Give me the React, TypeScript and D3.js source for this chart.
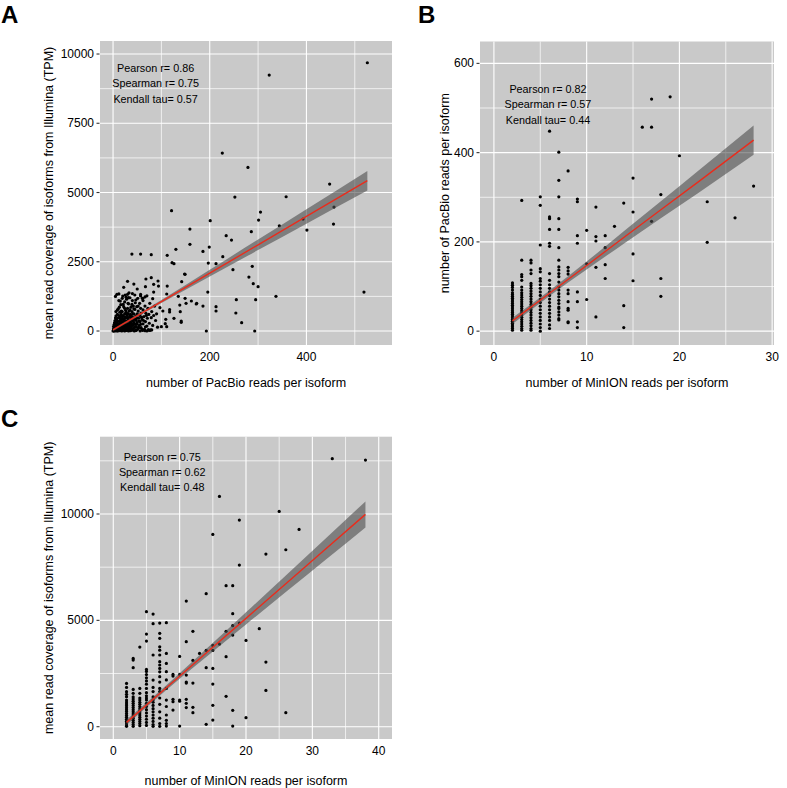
import * as d3 from 'd3'

// Panel A: PacBio reads per isoform (x) vs Illumina TPM (y)
const pacbioVsIllumina: [number, number][] = [
  [526, 9684], [323, 9239], [226, 6424], [279, 5907], [448, 5305], [358, 4848], [252, 4836],
  [457, 4475], [121, 4343], [305, 4295], [201, 3982], [301, 4006], [393, 4042], [344, 3801],
  [456, 3862], [401, 3645], [159, 3681], [286, 3585], [234, 3441], [245, 3284], [159, 3128],
  [199, 3032], [130, 2948], [186, 2875], [112, 2731], [39, 2779], [57, 2779], [79, 2755],
  [227, 2683], [122, 2466], [126, 2430], [197, 2454], [213, 2430], [288, 2334], [248, 2214],
  [149, 2045], [281, 1949], [290, 1708], [300, 1600], [142, 1780], [112, 1624], [196, 1407],
  [337, 1251], [519, 1407], [255, 1131], [295, 1131], [149, 1179], [173, 998], [186, 902],
  [213, 878], [213, 722], [138, 938], [139, 698], [254, 650], [266, 301], [141, 361],
  [141, 313], [193, 0], [293, 0], [117, 770], [117, 686], [126, 457], [103, 722], [109, 421],
  [108, 265], [97, 842], [94, 1624], [93, 1805], [84, 1684], [84, 1407], [79, 1925], [68, 1877],
  [67, 1600], [50, 1516], [43, 1696], [30, 1792], [22, 1576], [8, 1323], [148, 2058],
  [135, 1252], [151, 1000], [172, 975], [162, 1083], [111, 1336], [100, 155], [111, 155],
  [73, 40], [80, 40], [82, 1167], [57, 1265], [61, 1180], [30, 1325], [32, 1205], [12, 1100],
  [0, 0], [1, 20], [2, 60], [2, 10], [3, 120], [3, 40], [4, 200], [4, 80], [5, 15], [5, 300],
  [6, 150], [6, 50], [7, 420], [7, 90], [8, 240], [8, 30], [9, 600], [9, 180], [10, 60],
  [10, 350], [11, 800], [11, 260], [12, 130], [12, 20], [13, 480], [13, 210], [14, 90],
  [14, 680], [15, 300], [15, 40], [16, 950], [16, 520], [17, 160], [17, 380], [18, 70],
  [18, 250], [19, 700], [19, 440], [20, 110], [20, 20], [21, 560], [21, 330], [22, 880],
  [22, 190], [23, 60], [23, 410], [24, 1050], [24, 620], [25, 280], [25, 150], [26, 30],
  [26, 750], [27, 470], [27, 90], [28, 340], [28, 1150], [29, 560], [29, 200], [30, 40],
  [30, 820], [31, 390], [31, 630], [32, 140], [32, 980], [33, 260], [33, 720], [34, 70],
  [34, 500], [35, 1200], [35, 330], [36, 600], [36, 170], [37, 860], [37, 420], [38, 40],
  [38, 280], [39, 700], [40, 1100], [40, 510], [41, 220], [42, 900], [42, 360], [43, 620],
  [44, 110], [44, 450], [45, 780], [46, 250], [46, 1020], [47, 550], [48, 160], [48, 380],
  [49, 880], [50, 620], [50, 300], [51, 60], [52, 720], [53, 460], [54, 200], [55, 1000],
  [55, 560], [56, 340], [57, 820], [58, 120], [58, 650], [60, 420], [61, 1180], [62, 260],
  [62, 760], [64, 520], [65, 60], [66, 900], [67, 340], [68, 640], [70, 180], [71, 460],
  [72, 820], [73, 40], [74, 600], [75, 280], [76, 1000], [78, 40], [79, 480], [80, 700],
  [82, 200], [84, 560], [86, 900], [88, 380], [90, 620], [92, 140], [1, 5], [2, 30], [3, 0],
  [4, 25], [5, 100], [6, 10], [8, 5], [10, 0], [12, 80], [14, 15], [16, 100], [18, 0],
  [20, 230], [22, 50], [24, 0], [26, 120], [28, 20], [30, 160], [32, 0], [34, 230], [36, 10],
  [38, 120], [40, 30], [44, 0], [48, 20], [52, 100], [56, 0], [60, 60], [66, 10], [70, 0],
  [76, 20], [62, 1100], [66, 1230], [70, 1270], [40, 1350], [25, 1300], [33, 1380], [45, 1300],
  [51, 1180], [57, 1320], [20, 1260], [12, 1340], [5, 1250],
  [1, 80], [1, 160], [2, 230], [3, 300], [4, 380], [5, 470], [6, 540], [7, 250], [8, 330],
  [9, 90], [10, 470], [11, 150], [12, 560], [13, 40], [14, 360], [15, 450], [16, 220],
  [17, 600], [18, 140], [19, 300], [20, 520], [21, 80], [22, 420], [23, 250], [24, 140],
  [25, 500], [26, 360], [27, 200], [28, 620], [29, 90], [30, 480], [31, 250], [32, 400],
  [33, 110], [34, 350], [35, 560], [36, 260], [37, 110], [38, 520], [39, 380], [40, 200],
  [41, 620], [42, 80], [43, 300], [45, 160], [46, 420], [47, 30], [49, 250], [50, 470],
  [53, 130], [54, 360], [57, 240], [59, 500], [61, 20], [63, 380], [67, 150], [69, 560],
  [6, 700], [9, 760], [13, 860], [17, 720], [21, 960], [24, 820], [27, 680], [31, 1000],
  [35, 760], [39, 960], [43, 800], [47, 1120], [52, 900], [15, 1080], [19, 1180], [27, 1220],
]

// Panel B: MinION reads per isoform -> PacBio reads per isoform
const pacbioByMinion: [number, number[]][] = [
  [2, [108, 103, 98, 92, 86, 82, 78, 74, 70, 66, 62, 58, 54, 50, 46, 42, 38, 34, 30, 26, 22, 18, 14, 10, 6, 2]],
  [3, [293, 159, 127, 122, 114, 99, 92, 86, 81, 76, 71, 66, 61, 56, 51, 46, 41, 36, 31, 26, 21, 16, 11, 6, 2]],
  [4, [159, 153, 137, 129, 107, 102, 96, 90, 84, 78, 72, 66, 60, 54, 48, 42, 36, 30, 24, 18, 12, 6, 2]],
  [5, [301, 282, 193, 140, 133, 118, 112, 104, 96, 88, 80, 72, 64, 56, 48, 40, 32, 24, 16, 8, 0]],
  [6, [448, 256, 252, 228, 197, 190, 129, 114, 104, 96, 88, 80, 72, 64, 56, 48, 40, 32, 24, 14, 6]],
  [7, [401, 338, 301, 252, 228, 187, 159, 144, 137, 129, 122, 110, 99, 92, 84, 77, 69, 62, 54, 51, 43, 36, 28, 25]],
  [8, [359, 143, 135, 128, 92, 84, 66, 51, 47, 21, 19]],
  [9, [296, 290, 214, 197, 88, 66, 21, 8]],
  [10, [226, 151, 71]],
  [11, [278, 212, 202, 143, 32]],
  [12, [214, 187, 149, 118]],
  [13, [235]],
  [14, [287, 57, 8]],
  [15, [343, 267, 173, 113]],
  [16, [457]],
  [17, [520, 457, 246]],
  [18, [306, 118, 78]],
  [19, [525]],
  [20, [393]],
  [23, [290, 199]],
  [26, [254]],
  [28, [325]],
]

// Panel C: MinION reads per isoform -> Illumina TPM
const illuminaByMinion: [number, number[]][] = [
  [2, [2037, 1849, 1645, 1520, 1410, 1250, 1160, 1070, 980, 890, 800, 710, 620, 530, 440, 350, 260, 170, 80, 20]],
  [3, [3212, 3134, 2774, 1755, 1567, 1400, 1300, 1200, 1100, 1000, 900, 800, 700, 600, 500, 400, 300, 200, 100, 20]],
  [4, [3745, 1802, 1567, 1350, 1250, 1150, 1050, 950, 850, 750, 650, 550, 450, 350, 250, 150, 50]],
  [5, [5406, 4356, 4027, 2695, 2600, 2450, 2300, 2150, 2000, 1800, 1600, 1450, 1350, 1250, 1100, 950, 800, 650, 500, 350, 200, 60]],
  [6, [5296, 4842, 3370, 2194, 1849, 1650, 1400, 1250, 1150, 1000, 850, 700, 550, 400, 250, 100, 20]],
  [7, [4873, 4388, 4153, 3760, 3600, 3370, 3056, 2900, 2740, 2580, 2350, 2100, 1800, 1650, 1350, 1050, 700, 400, 150, 20]],
  [8, [4889, 3447, 2977, 2585, 2200, 1800, 1250, 950, 550, 300, 150, 30]],
  [9, [2460, 2380, 1285, 1175, 783]],
  [10, [3306, 2460, 1250, 1200, 31]],
  [11, [5907, 3996, 2429, 2100, 2050, 1285, 1100, 900]],
  [12, [4482, 3118, 2053, 909, 658]],
  [13, [3447]],
  [14, [6252, 3588, 2774, 110]],
  [15, [9041, 3823, 3588, 2742, 2006, 1003, 313]],
  [16, [10828, 3886]],
  [17, [6628, 4482, 3290, 1426]],
  [18, [6628, 5312, 4748, 4309, 768, 31]],
  [19, [9715, 7600, 4873]],
  [20, [4058, 423]],
  [22, [4607]],
  [23, [8117, 3040, 1708]],
  [25, [10123]],
  [26, [8320, 658]],
  [28, [9276]],
  [33, [12600]],
  [38, [12536]],
]

// lm fits + confidence band half-widths
const fitAX = [0, 100, 200, 300, 400, 526]
const fitAY = [40, 1064, 2088, 3112, 4136, 5426]
const fitABand = [45, 56, 121, 191, 262, 354]

const fitBX = [2, 6, 10, 14, 18, 22, 28]
const fitBY = [23, 85, 147, 210, 272, 334, 428]
const fitBBand = [7, 6, 9, 14, 19, 25, 33]

const fitCX = [2, 8, 14, 20, 26, 32, 38]
const fitCY = [204, 1834, 3463, 5093, 6722, 8352, 9982]
const fitCBand = [119, 110, 186, 286, 392, 500, 611]

const statsA = ['Pearson r= 0.86', 'Spearman r= 0.75', 'Kendall tau= 0.57']
const statsB = ['Pearson r= 0.82', 'Spearman r= 0.57', 'Kendall tau= 0.44']
const statsC = ['Pearson r= 0.75', 'Spearman r= 0.62', 'Kendall tau= 0.48']

const FONT = "'Liberation Sans', Arial, Helvetica, sans-serif"

const flatten = (cols: [number, number[]][]) =>
  cols.flatMap(([x, ys]) => ys.map(y => [x, y] as [number, number]))

const panels = [
  {
    label: 'A', labelX: 1, labelY: 23,
    left: 100, right: 392, top: 41, bottom: 345,
    xDomain: [-27, 577], yDomain: [-505, 10470],
    xTicks: [0, 200, 400], xGrid: [0, 100, 200, 300, 400, 500],
    yTicks: [0, 2500, 5000, 7500, 10000], yGrid: [0, 1250, 2500, 3750, 5000, 6250, 7500, 8750, 10000],
    points: pacbioVsIllumina,
    fitX: fitAX, fitY: fitAY, band: fitABand,
    stats: statsA, statX: 88, statY: 9505,
    xTitle: 'number of PacBio reads per isoform', xTitleGap: 42,
    yTitle: 'mean read coverage of isoforms from Illumina (TPM)', yTitleX: 49,
  },
  {
    label: 'B', labelX: 418, labelY: 23,
    left: 480, right: 774, top: 41.5, bottom: 345,
    xDomain: [-1.5, 30.2], yDomain: [-31, 649],
    xTicks: [0, 10, 20, 30], xGrid: [0, 5, 10, 15, 20, 25, 30],
    yTicks: [0, 200, 400, 600], yGrid: [0, 100, 200, 300, 400, 500, 600],
    points: flatten(pacbioByMinion),
    fitX: fitBX, fitY: fitBY, band: fitBBand,
    stats: statsB, statX: 5.83, statY: 543,
    xTitle: 'number of MinION reads per isoform', xTitleGap: 42,
    yTitle: 'number of PacBio reads per isoform', yTitleX: 445,
  },
  {
    label: 'C', labelX: 1, labelY: 427,
    left: 100, right: 392, top: 436.7, bottom: 739,
    xDomain: [-2, 42], yDomain: [-578, 13634],
    xTicks: [0, 10, 20, 30, 40], xGrid: [0, 5, 10, 15, 20, 25, 30, 35, 40],
    yTicks: [0, 5000, 10000], yGrid: [0, 2500, 5000, 7500, 10000, 12500],
    points: flatten(illuminaByMinion),
    fitX: fitCX, fitY: fitCY, band: fitCBand,
    stats: statsC, statX: 7.38, statY: 12694,
    xTitle: 'number of MinION reads per isoform', xTitleGap: 46,
    yTitle: 'mean read coverage of isoforms from Illumina (TPM)', yTitleX: 49,
  },
]

function Panel({ p }: { p: typeof panels[number] }) {
  const x = d3.scaleLinear().domain(p.xDomain).range([p.left, p.right])
  const y = d3.scaleLinear().domain(p.yDomain).range([p.bottom, p.top])

  const ribbon = d3.area<number>()
    .x(d => x(d))
    .y0((_, i) => y(p.fitY[i] - p.band[i]))
    .y1((_, i) => y(p.fitY[i] + p.band[i]))
    .curve(d3.curveMonotoneX)
  const fitLine = d3.line<number>()
    .x(d => x(d))
    .y((_, i) => y(p.fitY[i]))

  const midY = (p.top + p.bottom) / 2
  const midX = (p.left + p.right) / 2

  return (
    <g>
      <text x={p.labelX} y={p.labelY} fontSize={24} fontWeight="bold" fontFamily={FONT}>{p.label}</text>
      <rect x={p.left} y={p.top} width={p.right - p.left} height={p.bottom - p.top} fill="#c9c9c9" />
      {p.yGrid.map(v => (
        <line key={'gy' + v} x1={p.left} x2={p.right} y1={y(v)} y2={y(v)}
          stroke="#fff" strokeWidth={p.yTicks.includes(v) ? 1.1 : 0.7} />
      ))}
      {p.xGrid.map(v => (
        <line key={'gx' + v} y1={p.top} y2={p.bottom} x1={x(v)} x2={x(v)}
          stroke="#fff" strokeWidth={p.xTicks.includes(v) ? 1.1 : 0.7} />
      ))}
      {p.points.map(([a, b], i) => (
        <circle key={i} cx={x(a)} cy={y(b)} r={1.6} fill="#000" />
      ))}
      <path d={ribbon(p.fitX) || ''} fill="#4d4d4d" fillOpacity={0.6} />
      <path d={fitLine(p.fitX) || ''} fill="none" stroke="#ea2c1c" strokeWidth={1.4} />
      {p.stats.map((s, i) => (
        <text key={s} x={x(p.statX)} y={y(p.statY) + 4 + i * 15.4} textAnchor="middle"
          fontSize={10.8} fontFamily={FONT} fill="#000">{s}</text>
      ))}
      {p.yTicks.map(v => (
        <g key={'ty' + v}>
          <line x1={p.left - 3.5} x2={p.left - 0.5} y1={y(v)} y2={y(v)} stroke="#333" strokeWidth={1.1} />
          <text x={p.left - 6} y={y(v) + 4} textAnchor="end" fontSize={12} fontFamily={FONT} fill="#000">{v}</text>
        </g>
      ))}
      {p.xTicks.map(v => (
        <text key={'tx' + v} x={x(v)} y={p.bottom + 16} textAnchor="middle" fontSize={12}
          fontFamily={FONT} fill="#000">{v}</text>
      ))}
      <text x={midX} y={p.bottom + p.xTitleGap} textAnchor="middle" fontSize={12.5} fontFamily={FONT} fill="#000">{p.xTitle}</text>
      <text transform={`translate(${p.yTitleX},${midY}) rotate(-90)`} textAnchor="middle" dy="0.35em"
        fontSize={12.5} fontFamily={FONT} fill="#000">{p.yTitle}</text>
    </g>
  )
}

export default function App() {
  return (
    <svg width={787} height={788} style={{ position: 'absolute', left: 0, top: 0, background: '#fff' }}>
      {panels.map(p => <Panel key={p.label} p={p} />)}
    </svg>
  )
}
